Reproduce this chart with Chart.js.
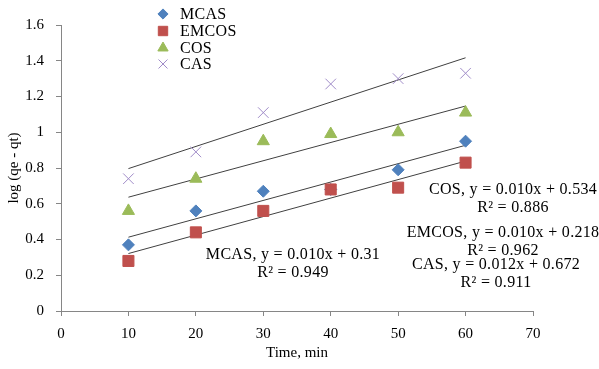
<!DOCTYPE html>
<html>
<head>
<meta charset="utf-8">
<title>Kinetics chart</title>
<script src="https://cdn.jsdelivr.net/npm/chart.js@4.4.0/dist/chart.umd.min.js"></script>
<style>
    html, body { margin: 0; padding: 0; background: #ffffff; }
    #wrap { width: 599px; height: 369px; position: relative; }
</style>
</head>
<body>
<div id="wrap"><canvas id="kineticsChart"></canvas></div>
<script>
// Chart data
const times = [10, 20, 30, 40, 50, 60];
const mcas = [0.37, 0.56, 0.67, 0.68, 0.79, 0.95];
const emcos = [0.28, 0.44, 0.56, 0.68, 0.69, 0.83];
const cos = [0.56, 0.74, 0.95, 0.99, 1.00, 1.11];
const cas = [0.74, 0.89, 1.11, 1.27, 1.30, 1.33];
const seriesNames = ['MCAS', 'EMCOS', 'COS', 'CAS'];
const yTicks = [0, 0.2, 0.4, 0.6, 0.8, 1, 1.2, 1.4, 1.6];
const xTicks = [0, 10, 20, 30, 40, 50, 60, 70];

// Trendline labels as printed on the chart
const equationLabels = [
    { text: 'MCAS, y = 0.010x + 0.31', r2: 'R² = 0.949', x: 293, y: 255 },
    { text: 'COS, y = 0.010x + 0.534', r2: 'R² = 0.886', x: 513, y: 190 },
    { text: 'EMCOS, y = 0.010x + 0.218', r2: 'R² = 0.962', x: 503, y: 233 },
    { text: 'CAS, y = 0.012x + 0.672', r2: 'R² = 0.911', x: 496, y: 265 }
];

const FONT = '"Liberation Serif", "Times New Roman", serif';

// Least squares fit, same as the spreadsheet trendline
function trendline(xs, ys) {
    const n = xs.length;
    const mx = xs.reduce((a, b) => a + b, 0) / n;
    const my = ys.reduce((a, b) => a + b, 0) / n;
    let sxy = 0, sxx = 0;
    xs.forEach((x, i) => {
        sxy += (x - mx) * (ys[i] - my);
        sxx += (x - mx) * (x - mx);
    });
    const slope = sxy / sxx;
    const icpt = my - slope * mx;
    const x0 = xs[0], x1 = xs[n - 1];
    return [{ x: x0, y: icpt + slope * x0 }, { x: x1, y: icpt + slope * x1 }];
}

function toPoints(ys) {
    return times.map((t, i) => ({ x: t, y: ys[i] }));
}

const styles = [
    { color: '#4F81BD', point: 'rectRot', radius: 6, border: '#4F81BD', bw: 1 },
    { color: '#C0504D', point: 'rect', radius: 7.8, border: '#C0504D', bw: 1 },
    { color: '#9BBB59', point: 'triangle', radius: 7, border: '#9BBB59', bw: 1 },
    { color: 'rgba(0,0,0,0)', point: 'crossRot', radius: 7.5, border: '#A08CC8', bw: 1 }
];

const allSeries = [mcas, emcos, cos, cas];

const datasets = [];
allSeries.forEach((ys, i) => {
    datasets.push({
        label: seriesNames[i] + ' trend',
        data: trendline(times, ys),
        showLine: true,
        borderColor: '#404040',
        borderWidth: 1,
        pointRadius: 0,
        order: 10
    });
});
// draw order: CAS, COS, MCAS, EMCOS on top
[3, 2, 0, 1].forEach((i, k) => {
    const s = styles[i];
    datasets.push({
        label: seriesNames[i],
        data: toPoints(allSeries[i]),
        showLine: false,
        pointStyle: s.point,
        pointRadius: s.radius,
        pointBackgroundColor: s.color,
        pointBorderColor: s.border,
        pointBorderWidth: s.bw,
        order: 5 - k
    });
});

function setFont(ctx, size) {
    ctx.font = size + 'px ' + FONT;
    if ('letterSpacing' in ctx) ctx.letterSpacing = '0.3px';
}

const legendPlugin = {
    id: 'customLegend',
    afterDraw(chart) {
        const ctx = chart.ctx;
        ctx.save();
        const rows = [14, 31, 48, 64];
        seriesNames.forEach((name, i) => {
            const s = styles[i];
            ctx.fillStyle = s.color;
            ctx.strokeStyle = s.border;
            ctx.lineWidth = s.bw;
            Chart.helpers.drawPoint(ctx, { pointStyle: s.point, radius: s.radius * 0.85, borderWidth: s.bw }, 163, rows[i]);
            ctx.fillStyle = '#000';
            setFont(ctx, 16);
            ctx.textBaseline = 'middle';
            ctx.textAlign = 'left';
            ctx.fillText(name, 180, rows[i] + 1);
        });
        ctx.restore();
    }
};

const labelPlugin = {
    id: 'equationLabels',
    afterDraw(chart) {
        const ctx = chart.ctx;
        ctx.save();
        ctx.fillStyle = '#000';
        setFont(ctx, 16);
        ctx.textAlign = 'center';
        ctx.textBaseline = 'middle';
        equationLabels.forEach(l => {
            ctx.fillText(l.text, l.x, l.y);
            ctx.fillText(l.r2, l.x, l.y + 18);
        });
        ctx.restore();
    }
};

const ctxEl = document.getElementById('kineticsChart');
new Chart(ctxEl, {
    type: 'scatter',
    data: { datasets: datasets },
    options: {
        responsive: true,
        maintainAspectRatio: false,
        animation: false,
        layout: { padding: { top: 25, right: 66, left: 0, bottom: 0 } },
        plugins: {
            legend: { display: false },
            tooltip: { enabled: false }
        },
        scales: {
            x: {
                type: 'linear',
                min: 0,
                max: 70,
                afterBuildTicks: axis => { axis.ticks = xTicks.map(v => ({ value: v })); },
                afterFit: axis => { axis.height = 58; },
                ticks: {
                    color: '#000',
                    font: { family: FONT, size: 15 },
                    padding: 9,
                    maxRotation: 0
                },
                grid: { drawOnChartArea: false, drawTicks: true, tickLength: 5, color: '#868686' },
                border: { color: '#868686', width: 1 },
                title: {
                    display: true,
                    text: 'Time, min',
                    color: '#000',
                    font: { family: FONT, size: 15 },
                    padding: { top: 0, bottom: 7 }
                }
            },
            y: {
                type: 'linear',
                min: 0,
                max: 1.6,
                afterBuildTicks: axis => { axis.ticks = yTicks.map(v => ({ value: v })); },
                afterFit: axis => { axis.width = 61; },
                ticks: {
                    color: '#000',
                    font: { family: FONT, size: 15 },
                    padding: 12,
                    callback: v => String(+v.toFixed(1))
                },
                grid: { drawOnChartArea: false, drawTicks: true, tickLength: 5, color: '#868686' },
                border: { color: '#868686', width: 1 },
                title: {
                    display: true,
                    text: 'log (qe - qt)',
                    color: '#000',
                    font: { family: FONT, size: 15 },
                    padding: { top: 5, bottom: 0 }
                }
            }
        }
    },
    plugins: [legendPlugin, labelPlugin]
});
</script>
</body>
</html>
